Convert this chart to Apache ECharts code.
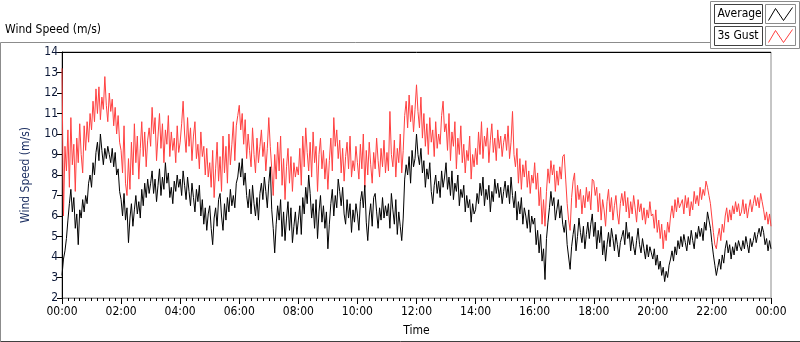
<!DOCTYPE html>
<html>
<head>
<meta charset="utf-8">
<title>Wind Speed</title>
<script src="https://cdn.jsdelivr.net/npm/echarts@6/dist/echarts.min.js"></script>
<style>
  html, body { margin: 0; padding: 0; background: #fff; }
  #chart { width: 800px; height: 342px; }
</style>
</head>
<body>
<div id="chart"></div>
<script>
// one sample every 3 minutes, 00:00 .. 24:00 (20 per hour)
const stepMin = 3;
const timeLabels = ['00:00', '02:00', '04:00', '06:00', '08:00', '10:00', '12:00',
  '14:00', '16:00', '18:00', '20:00', '22:00', '00:00'];

// Average wind speed (m/s), one row per hour
const avgSpeed = [
  3.1, 3.9, 4.3, 4.9, 5.8, 6.6, 7.3, 6.2, 6.9, 5.4, 6.1, 4.6, 6.3, 5.9, 6.8, 6.2, 7.0, 6.6, 7.6, 8.0,
  7.4, 8.6, 8.0, 9.1, 9.6, 8.7, 10.0, 9.2, 8.5, 9.3, 8.8, 9.4, 9.0, 8.6, 9.3, 8.4, 9.1, 8.0, 8.3, 7.2,
  6.8, 6.0, 7.1, 5.8, 6.4, 4.7, 5.9, 6.6, 5.5, 6.3, 7.0, 6.1, 6.7, 5.9, 7.3, 6.5, 7.6, 6.9, 7.8, 7.1,
  7.6, 8.2, 7.1, 7.8, 6.7, 7.5, 8.3, 7.0, 7.9, 7.3, 8.6, 7.6, 8.1, 6.9, 7.4, 6.6, 7.7, 7.2, 8.0, 7.4,
  7.8, 7.0, 8.2, 7.5, 6.8, 7.9, 7.2, 6.5, 7.6, 6.9, 6.2, 7.3, 6.7, 7.5, 6.0, 6.8, 5.6, 6.4, 5.3, 6.1,
  6.5, 5.4, 4.6, 5.9, 6.4, 5.5, 6.8, 7.1, 6.0, 5.3, 6.6, 5.8, 6.9, 6.2, 7.3, 6.5, 7.0, 6.4, 7.6, 7.9,
  8.6, 7.9, 8.8, 7.5, 8.1, 7.0, 6.4, 7.3, 6.1, 7.5, 6.6, 6.0, 6.9, 5.8, 7.1, 7.6, 6.8, 7.9, 7.2, 6.4,
  7.6, 8.4, 6.3, 5.4, 4.2, 5.6, 6.5, 5.8, 6.8, 5.0, 6.2, 4.8, 5.9, 6.7, 5.3, 6.4, 4.7, 5.5, 6.2, 5.1,
  5.8, 6.5, 5.1, 6.9, 6.1, 7.4, 6.6, 8.0, 7.1, 5.9, 6.6, 5.4, 6.8, 4.9, 6.2, 7.0, 5.7, 6.5, 5.4, 6.2,
  4.4, 5.6, 6.6, 7.3, 6.0, 7.0, 6.4, 7.8, 7.2, 6.5, 7.4, 6.1, 5.6, 6.8, 5.9, 6.6, 5.2, 6.3, 5.7, 6.6,
  6.1, 5.3, 6.7, 7.2, 6.4, 7.5, 5.7, 4.8, 6.0, 6.6, 5.5, 6.9, 7.1, 6.2, 5.4, 6.4, 5.8, 6.9, 5.9, 6.5,
  6.0, 6.6, 5.4, 7.1, 6.3, 5.6, 6.8, 5.1, 6.2, 5.5, 4.8, 5.9, 7.8, 8.5, 8.0, 8.9, 7.6, 9.2, 8.4, 8.8,
  10.0, 9.0, 8.5, 9.3, 8.1, 8.7, 7.4, 8.3, 7.8, 8.6, 7.2, 6.6, 7.5, 8.0, 7.1, 7.7, 6.9, 8.2, 7.4, 7.9,
  8.6, 7.3, 7.9, 7.0, 8.2, 6.8, 7.6, 7.2, 8.0, 6.5, 7.3, 6.9, 7.5, 6.2, 7.0, 6.4, 6.8, 5.7, 6.6, 6.1,
  6.3, 7.1, 6.6, 7.6, 7.0, 7.9, 6.5, 7.3, 6.8, 7.5, 6.2, 7.2, 6.7, 7.8, 7.1, 7.6, 6.9, 7.4, 6.6, 7.2,
  7.7, 6.9, 7.5, 6.6, 7.9, 7.0, 6.4, 7.2, 5.8, 6.7, 6.1, 6.9, 5.6, 6.4, 6.0, 5.4, 6.3, 5.2, 6.0, 5.6,
  5.9, 4.6, 5.3, 4.2, 5.1, 3.8, 4.4, 2.9, 4.9, 5.7, 6.4, 7.2, 6.5, 6.9, 5.8, 6.3, 6.8, 5.9, 6.5, 5.6,
  5.2, 5.8, 4.6, 4.0, 3.4, 4.5, 5.1, 5.6, 4.3, 5.0, 5.9, 5.2, 4.7, 5.5, 4.4, 5.1, 5.7, 4.9, 5.6, 6.1,
  5.0, 5.7, 4.4, 5.3, 4.7, 5.5, 4.1, 4.8, 3.8, 4.6, 5.2, 4.5, 5.4, 4.9, 4.3, 5.1, 4.6, 4.0, 4.7, 5.0,
  5.3, 4.6, 5.7, 4.9, 5.2, 4.3, 5.0, 4.5, 4.1, 4.8, 5.4, 4.6, 4.2, 4.9, 4.4, 3.9, 4.6, 4.0, 4.5, 4.2,
  3.9, 4.4, 3.6, 4.1, 3.4, 3.8, 3.1, 3.5, 2.8, 3.3, 3.0, 3.6, 3.9, 4.3, 3.8, 4.5, 4.1, 4.8, 4.4, 5.0,
  4.5, 5.1, 4.7, 4.3, 5.0, 4.6, 5.3, 4.8, 4.4, 5.2, 4.9, 5.5, 5.0, 5.4, 4.8, 5.7, 5.3, 6.2, 5.8, 5.4,
  4.7, 4.1, 3.6, 3.1, 3.5, 3.9, 3.4, 4.1, 3.7, 4.4, 4.8, 4.2, 4.6, 3.9, 4.5, 4.1, 4.7, 4.3, 4.8, 4.5,
  4.3, 4.8, 4.4, 5.0, 4.6, 4.2, 4.9, 4.5, 4.8, 5.2, 4.7, 5.1, 5.4, 5.0, 5.5, 5.2, 4.6, 4.9, 4.3, 4.8,
  4.4
];

// 3s gust (m/s), one row per hour
const gustSpeed = [
  13.2, 6.0, 9.4, 8.2, 10.2, 7.4, 10.8, 8.5, 9.5, 7.2, 9.8, 8.6, 10.5, 9.0, 8.1, 10.4, 9.2, 10.6, 9.6, 11.0,
  10.2, 11.6, 10.6, 12.2, 11.0, 12.3, 10.7, 11.8, 11.2, 12.8, 11.4, 10.6, 12.0, 11.1, 11.7, 10.4, 11.3, 10.0, 10.9, 9.6,
  9.2, 8.1, 10.4, 7.6, 7.0, 8.8, 7.3, 9.6, 8.0, 10.5, 8.6, 9.9, 7.8, 9.3, 10.6, 8.9, 10.1, 8.4, 9.7, 10.3,
  9.4, 11.3, 10.0, 10.8, 8.7, 9.9, 11.0, 9.3, 10.5, 8.6, 10.2, 9.5, 10.9, 8.9, 10.1, 9.2, 9.8, 8.6, 10.4, 9.1,
  9.6, 10.5, 11.6, 10.0, 9.1, 10.8, 9.4, 10.3, 8.7, 9.9, 10.6, 8.8, 9.5, 8.3, 10.1, 8.9, 9.4, 8.0, 9.3, 7.9,
  8.6, 7.4, 9.2, 6.9, 8.3, 9.6, 7.7, 8.9, 7.2, 9.9, 8.1, 9.4, 7.6, 10.0, 8.5, 9.5, 10.6, 8.7, 10.4, 10.9,
  11.4, 10.2, 11.0, 9.5, 10.7, 8.8, 10.0, 9.2, 8.4, 10.3, 9.0, 8.1, 9.8, 8.6, 9.4, 10.2, 8.9, 9.6, 8.2, 9.3,
  10.8, 9.4, 8.3, 7.0, 9.0, 7.8, 9.6, 8.2, 9.9, 7.5, 8.8, 6.8, 8.4, 9.3, 7.6, 8.9, 7.2, 8.6, 7.9, 8.4,
  8.0, 9.3, 7.5, 9.9, 8.4, 10.3, 9.1, 8.2, 9.6, 7.9, 10.1, 8.6, 9.4, 7.2, 9.0, 9.8, 8.3, 9.2, 7.8, 8.8,
  7.3, 8.7, 9.8, 8.2, 10.8, 9.4, 10.2, 8.8, 9.7, 8.1, 9.3, 7.7, 8.9, 9.6, 8.3, 9.9, 7.9, 8.7, 8.2, 9.4,
  8.6, 7.8, 9.5, 8.3, 10.0, 7.4, 9.2, 8.0, 9.6, 8.5, 7.6, 9.1, 8.3, 9.8, 8.7, 7.9, 9.3, 8.4, 9.7, 8.1,
  9.1, 8.2, 11.1, 9.0, 8.4, 9.7, 7.9, 9.3, 8.6, 10.0, 8.1, 9.2, 10.9, 11.6, 10.3, 11.9, 10.6, 11.4, 10.1, 11.2,
  12.4, 11.1, 10.3, 11.8, 9.8, 11.0, 9.4, 10.5, 9.0, 10.8, 9.6, 10.2, 8.9, 10.6, 9.3, 10.0, 9.5, 10.9, 11.6, 10.1,
  10.5, 9.2, 11.0, 8.7, 10.1, 9.4, 10.6, 8.3, 9.8, 9.0, 10.4, 8.6, 9.5, 8.1, 9.2, 8.7, 9.9, 7.8, 9.0, 8.4,
  9.3, 8.5, 10.1, 9.0, 10.6, 8.8, 9.9, 9.4, 10.3, 8.6, 9.7, 10.5, 9.1, 9.8, 8.7, 10.2, 9.3, 9.9, 8.9, 9.6,
  10.0, 9.2, 10.4, 8.8, 9.6, 11.1, 9.0, 8.4, 9.3, 7.6, 8.8, 7.3, 8.5, 7.9, 8.7, 7.4, 8.2, 7.1, 8.0, 7.6,
  8.6, 7.3, 8.1, 6.5, 7.4, 5.6, 6.8, 5.5, 7.2, 8.3, 7.6, 8.7, 8.0, 8.5, 7.2, 8.2, 7.5, 8.4, 7.8, 8.9,
  9.0, 7.8, 6.6, 5.8, 5.3, 6.9, 7.7, 8.1, 6.4, 7.5, 6.8, 7.3, 6.1, 7.0, 6.4, 7.4, 6.7, 7.2, 6.3, 7.8,
  7.7, 7.0, 7.4, 6.2, 7.1, 5.8, 6.8, 6.3, 5.5, 6.7, 7.3, 6.2, 6.9, 5.8, 6.5, 7.0, 6.1, 5.6, 6.6, 7.1,
  6.5, 7.2, 6.2, 6.9, 5.9, 6.7, 6.1, 7.0, 6.4, 5.7, 6.8, 6.2, 6.6, 5.8, 6.4, 5.6, 6.3, 5.9, 6.7, 6.0,
  6.1, 5.4, 6.3, 5.2, 5.8, 4.9, 5.6, 4.4, 5.3, 4.8, 5.7, 5.2, 6.0, 6.5, 5.9, 6.8, 6.2, 6.9, 6.4, 6.6,
  6.8, 6.1, 7.0, 6.4, 6.9, 6.0, 6.7, 6.3, 7.2, 6.6, 7.0, 6.5, 7.4, 6.8, 7.3, 7.0, 7.7, 7.4, 7.0, 6.6,
  5.9, 5.2, 4.6, 4.4, 5.0, 5.4, 4.8, 5.6, 5.2, 6.0, 6.4, 5.7, 6.3, 5.8, 6.5, 6.1, 6.7, 6.2, 6.6, 6.0,
  6.2, 6.8, 6.1, 6.6, 5.9, 6.4, 6.8, 6.2, 6.6, 7.0, 6.5, 6.9, 6.4, 7.1, 6.7, 6.3, 5.8, 6.2, 5.6, 6.1,
  5.5
];

const chart = echarts.init(document.getElementById('chart'));
const fontFamily = "'Liberation Sans Narrow', 'DejaVu Sans Condensed', sans-serif";
const gray = '#8c8c8c';

function toPairs(values) {
  return values.map((v, i) => [i * stepMin, v]);
}

// legend glyph "/\/" inside a little box
function glyph(x, y, color) {
  return [
    { type: 'rect', shape: { x: x, y: y, width: 30, height: 19 },
      style: { fill: '#fff', stroke: gray, lineWidth: 1 } },
    { type: 'polyline', shape: { points: [[x + 3, y + 16], [x + 10, y + 4], [x + 18, y + 16], [x + 27, y + 3]] },
      style: { stroke: color, lineWidth: 1, fill: null } }
  ];
}

function legendLabel(x, y, text) {
  return [
    { type: 'rect', shape: { x: x, y: y, width: 48, height: 19 },
      style: { fill: '#fff', stroke: '#404040', lineWidth: 1 } },
    { type: 'text', x: x + 3, y: y + 3,
      style: { text: text, fill: '#000', font: '12px ' + fontFamily } }
  ];
}

chart.setOption({
  animation: false,
  backgroundColor: '#fff',
  grid: { left: 62, right: 29, top: 52, bottom: 40, show: true, borderColor: gray, borderWidth: 1 },
  xAxis: {
    type: 'value',
    min: 0,
    max: 1440,
    interval: 120,
    name: 'Time',
    nameLocation: 'middle',
    nameGap: 27,
    nameTextStyle: { color: '#000', fontSize: 12, fontFamily: fontFamily },
    axisLine: { show: true, lineStyle: { color: gray } },
    axisTick: { show: true, length: 6, lineStyle: { color: '#000' } },
    minorTick: { show: true, splitNumber: 10, length: 3, lineStyle: { color: '#000' } },
    splitLine: { show: false },
    axisLabel: {
      color: '#000', fontSize: 12, fontFamily: fontFamily, margin: 8,
      formatter: v => timeLabels[Math.round(v / 120)]
    }
  },
  yAxis: {
    type: 'value',
    min: 2,
    max: 14,
    interval: 1,
    name: 'Wind Speed (m/s)',
    nameLocation: 'middle',
    nameGap: 30,
    nameTextStyle: { color: '#1f3264', fontSize: 12, fontFamily: fontFamily },
    axisLine: { show: true, lineStyle: { color: '#000', width: 1 } },
    axisTick: { show: true, length: 5, lineStyle: { color: '#000' } },
    splitLine: { show: false },
    axisLabel: { color: '#0c1838', fontSize: 12, fontFamily: fontFamily, margin: 4 }
  },
  series: [
    {
      name: '3s Gust',
      type: 'line',
      data: toPairs(gustSpeed),
      showSymbol: false,
      lineStyle: { color: '#ff4040', width: 1 },
      itemStyle: { color: '#ff4040' }
    },
    {
      name: 'Average',
      type: 'line',
      data: toPairs(avgSpeed),
      showSymbol: false,
      lineStyle: { color: '#000', width: 1 },
      itemStyle: { color: '#000' }
    }
  ],
  graphic: [
    // outer panel frame
    { type: 'line', shape: { x1: 0.5, y1: 42.5, x2: 711, y2: 42.5 }, style: { stroke: gray, lineWidth: 1 } },
    { type: 'line', shape: { x1: 0.5, y1: 42.5, x2: 0.5, y2: 341.5 }, style: { stroke: gray, lineWidth: 1 } },
    { type: 'line', shape: { x1: 0.5, y1: 341.5, x2: 800, y2: 341.5 }, style: { stroke: '#404040', lineWidth: 1 } },
    // black top edge of plot
    { type: 'line', shape: { x1: 62, y1: 52.5, x2: 771, y2: 52.5 }, style: { stroke: '#000', lineWidth: 1 } },
    // panel title
    { type: 'text', left: 5, top: 24,
      style: { text: 'Wind Speed (m/s)', fill: '#000', font: '12px ' + fontFamily } },
    // legend panel
    { type: 'rect', shape: { x: 710.5, y: 1.5, width: 89, height: 47 },
      style: { fill: '#fff', stroke: gray, lineWidth: 1 } },
    ...legendLabel(714.5, 4.5, 'Average'),
    ...glyph(765.5, 4.5, '#000'),
    ...legendLabel(714.5, 26.5, '3s Gust'),
    ...glyph(765.5, 26.5, '#ff4040')
  ]
});
</script>
</body>
</html>
